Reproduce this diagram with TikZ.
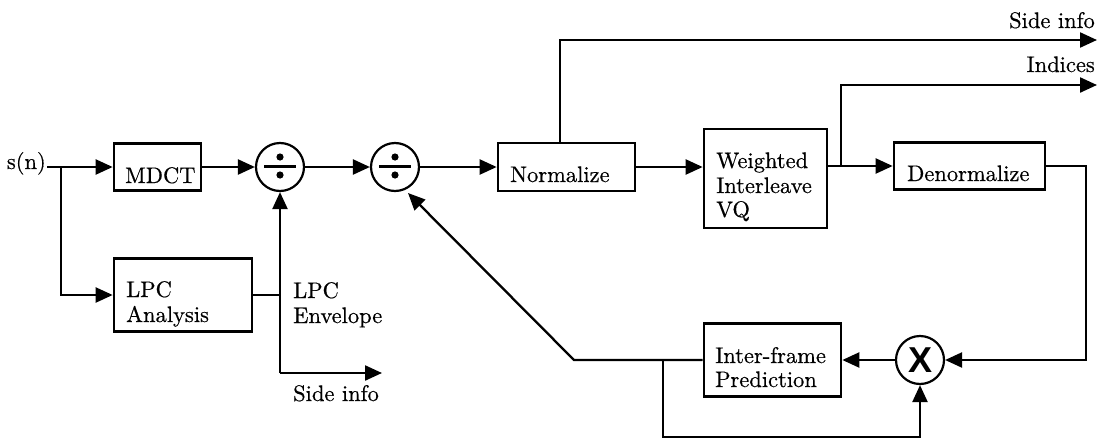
\documentclass[tikz,border=0pt]{standalone}
\usepackage{fontspec}
\newfontfamily\xfont{Liberation Sans}
\newfontfamily\tfont{lmroman10-regular.otf}[FakeBold=0.5]
\usetikzlibrary{arrows.meta}
\begin{document}
\begin{tikzpicture}[x=1pt,y=-1pt,
  txt/.style={font=\tfont\fontsize{22.5}{24.5}\selectfont, inner sep=0pt, anchor=base west},
  blk/.style={draw, line width=2.7pt, inner sep=0pt},
  op/.style={draw, circle, line width=2.2pt, minimum size=48pt, inner sep=0pt},
  wire/.style={line width=2.3pt},
  arr/.style={wire, -{Triangle[length=17pt,width=15pt]}}]
\useasboundingbox (0,0) rectangle (1098,442);

% blocks
\node[blk, minimum width=87pt, minimum height=47pt] (mdct) at (157.5,167) {};
\node[blk, minimum width=137pt, minimum height=48pt] (norm) at (566.5,167) {};
\node[blk, minimum width=123pt, minimum height=99pt] (vq) at (765.5,178.5) {};
\node[blk, minimum width=151pt, minimum height=47pt] (denorm) at (969.5,166) {};
\node[blk, minimum width=138pt, minimum height=73pt] (lpc) at (183,295) {};
\node[blk, minimum width=137pt, minimum height=73pt] (inter) at (772.5,360) {};

% operators
\node[op] (div1) at (280,167) {};
\node[op] (div2) at (395,167) {};
\node[op] (mul) at (920,360) {};
\foreach \c in {280,395}{
  \draw[line width=3pt] (\c-16,166) -- (\c+16,166);
  \fill (\c,157) circle[radius=3.6pt];
  \fill (\c,175) circle[radius=3.6pt];
}
\node[font=\xfont\bfseries\fontsize{36}{36}\selectfont, inner sep=0pt] (mulx) at (920,360) {X};

% texts
\node[txt, anchor=base east] (sn) at (46,169) {s(n)};
\node[txt] (t1) at (125,183) {MDCT};
\node[txt] (t2) at (510,182) {Normalize};
\node[txt] (t3a) at (716,168) {Weighted};
\node[txt] (t3b) at (716,193) {Interleave};
\node[txt] (t3c) at (716,217) {VQ};
\node[txt] (t4) at (907,181) {Denormalize};
\node[txt] (t5a) at (126,297) {LPC};
\node[txt] (t5b) at (126,322) {Analysis};
\node[txt] (t6a) at (715,363) {Inter-frame};
\node[txt] (t6b) at (715,387) {Prediction};
\node[txt] (t7a) at (293,298) {LPC};
\node[txt] (t7b) at (293,323) {Envelope};
\node[txt] (t8) at (293,401) {Side info};
\node[txt, anchor=base east] (t9) at (1095,28) {Side info};
\node[txt, anchor=base east] (t10) at (1095,72) {Indices};

% coordinates
\coordinate (s0) at (47,167);
\coordinate (j1) at (61,167);
\coordinate (e1) at (280,373);
\coordinate (e2) at (382,373);
\coordinate (tp) at (560,40);
\coordinate (tpe) at (1097,40);
\coordinate (j3) at (841,166);
\coordinate (ip) at (841,85);
\coordinate (ipe) at (1097,85);
\coordinate (r1) at (1086,166);
\coordinate (d0) at (574,360);
\coordinate (dtip) at (408,193);
\coordinate (j4) at (663,360);
\coordinate (b1) at (663,437);

% connectors
\draw[arr] (s0) -- (s0 -| mdct.west);
\draw[arr] (j1) |- (lpc.west);
\draw[arr] (mdct.east) -- (div1.west);
\draw[arr] (div1.east) -- (div2.west);
\draw[arr] (div2.east) -- (norm.west);
\draw[arr] (norm.east) -- (norm.east -| vq.west);
\draw[wire] (lpc.east) -- (lpc.east -| e1);
\draw[arr] (e1) -- (div1.south);
\draw[arr] (e1) -- (e2);
\draw[arr] (tp |- norm.north) -- (tp) -- (tpe);
\draw[arr] (j3 -| vq.east) -- (j3 -| denorm.west);
\draw[arr] (j3) -- (ip) -- (ipe);
\draw[arr] (denorm.east) -- (r1) |- (mul.east);
\draw[arr] (mul.west) -- (mul.west -| inter.east);
\draw[arr] (inter.west) -- (d0) -- (dtip);
\draw[arr] (j4) -- (b1) -| (mul.south);
\end{tikzpicture}
\end{document}
